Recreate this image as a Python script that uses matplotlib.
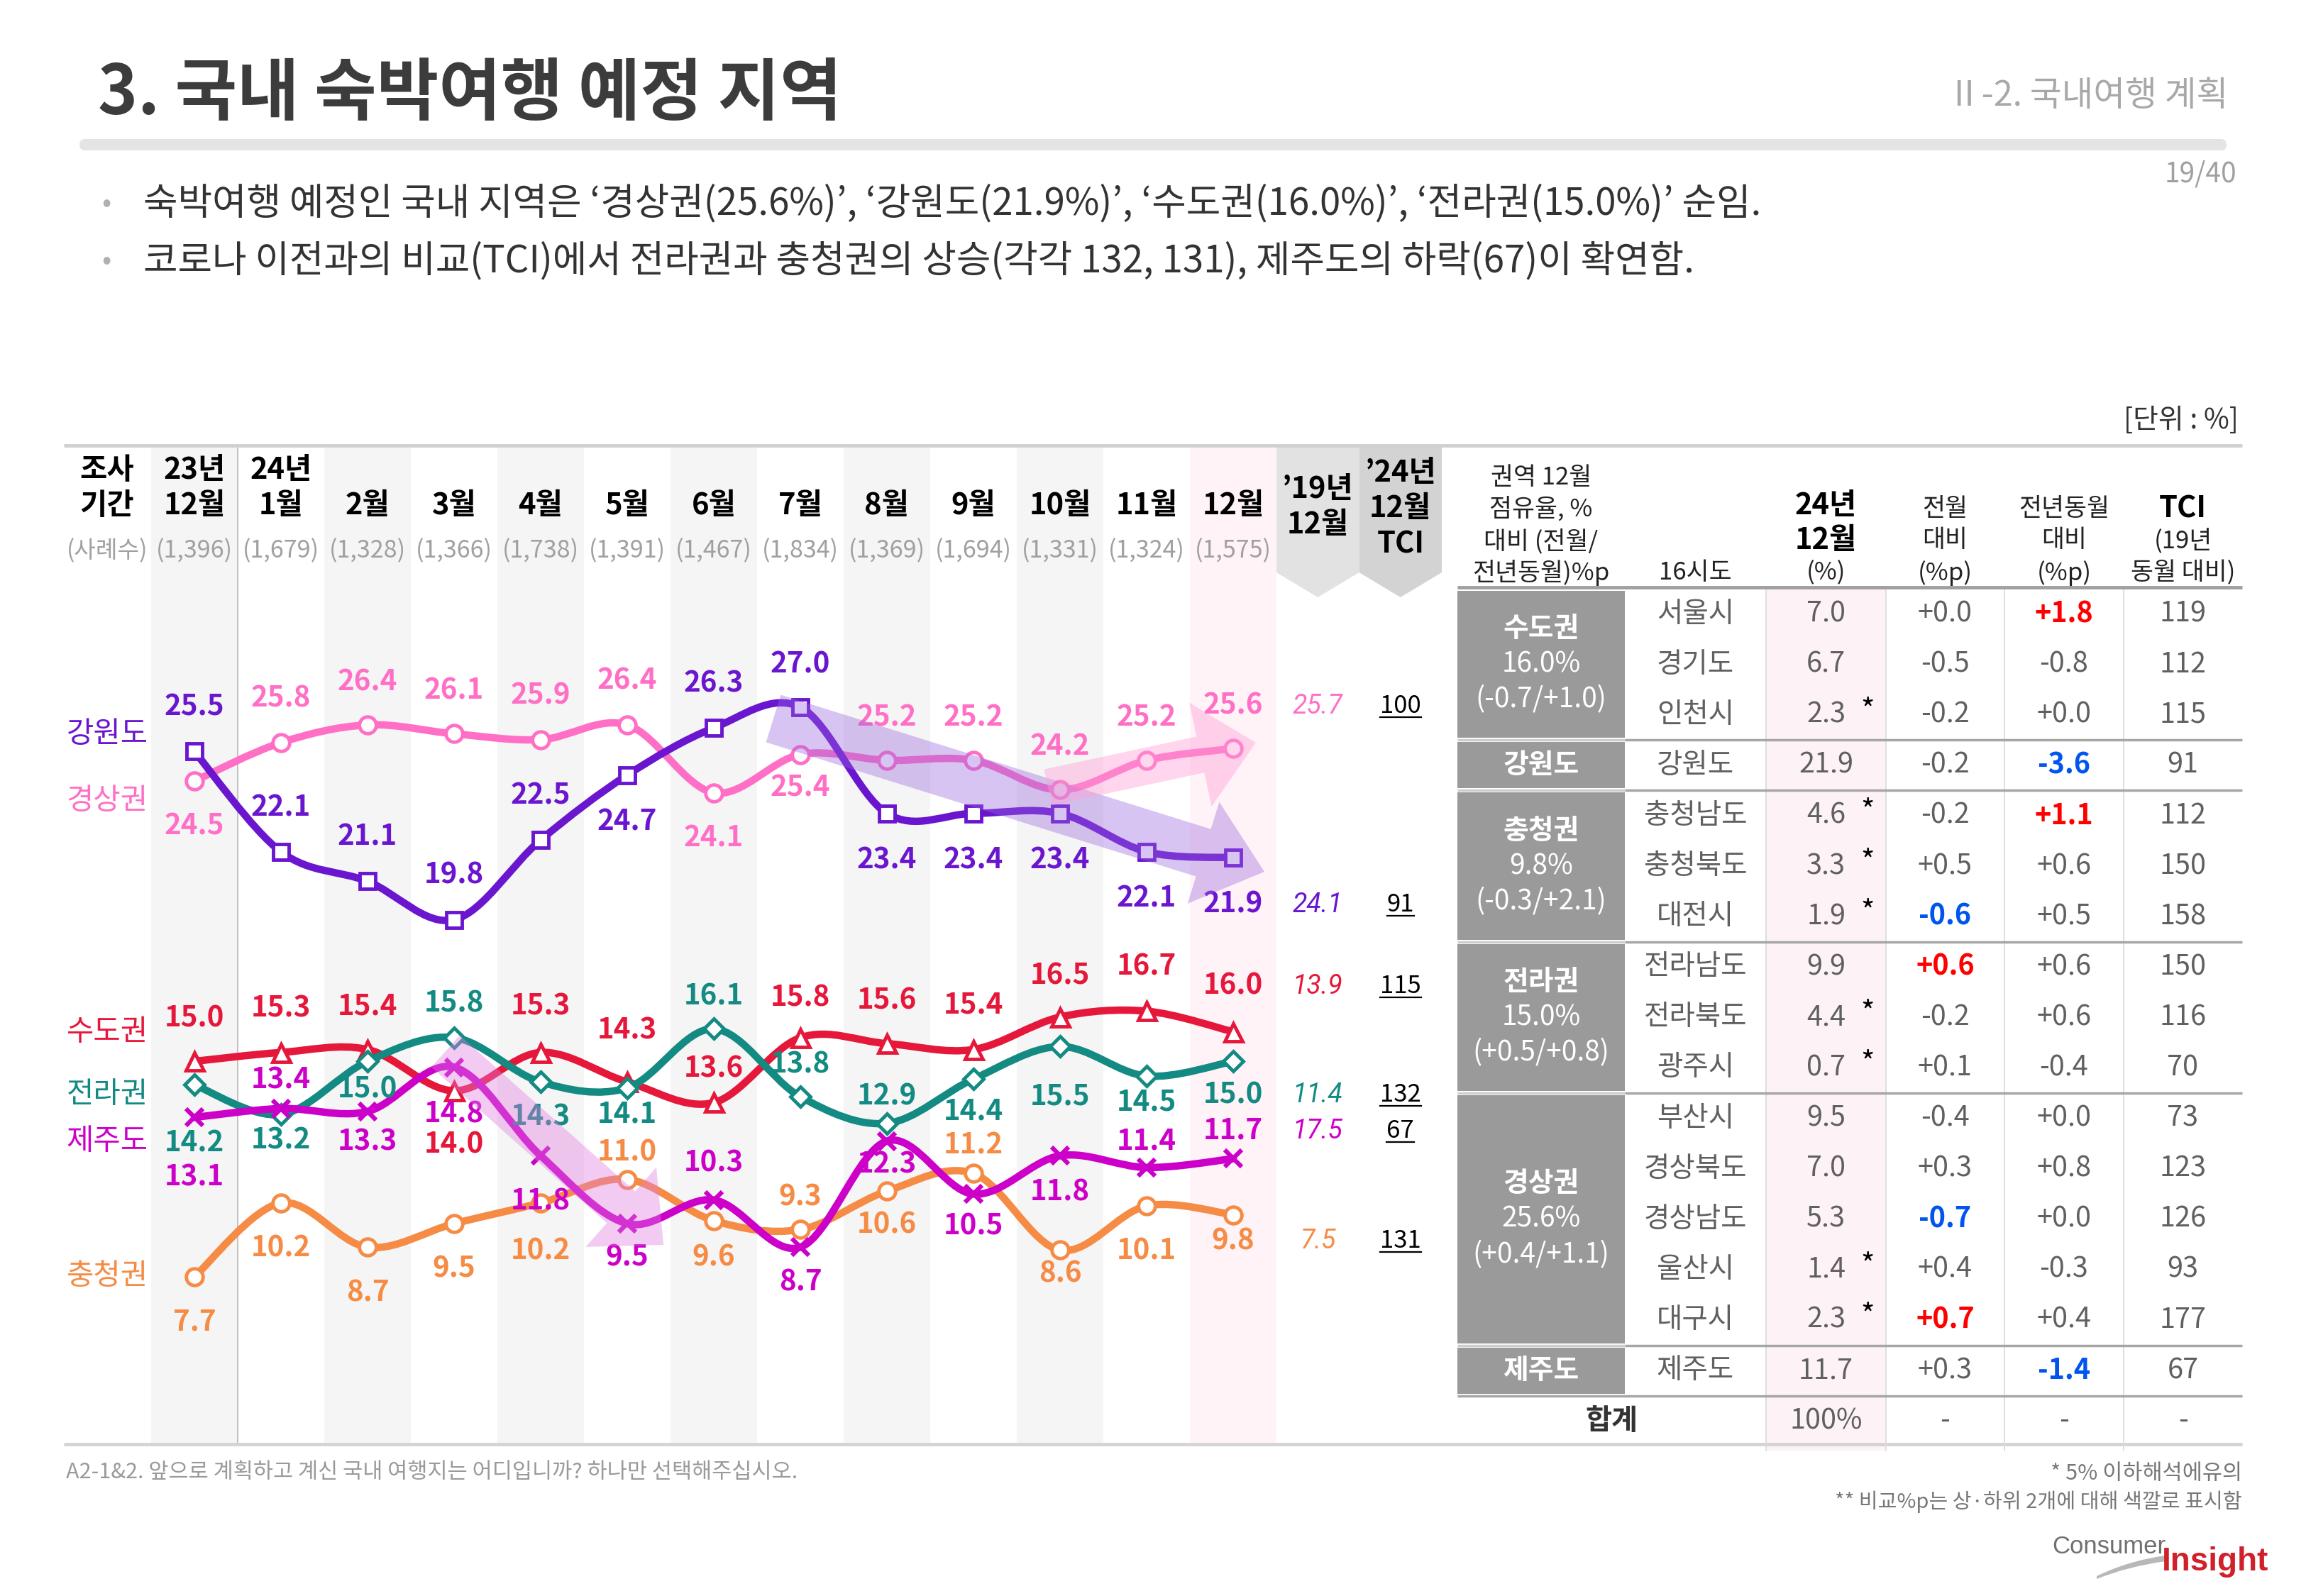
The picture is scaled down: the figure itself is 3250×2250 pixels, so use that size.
import matplotlib
matplotlib.use("Agg")
import matplotlib.pyplot as plt
import numpy as np
from matplotlib.path import Path
from matplotlib.patches import PathPatch, Rectangle, Polygon, FancyArrow, FancyBboxPatch
from matplotlib.lines import Line2D

plt.rcParams["font.family"] = ["Noto Sans CJK KR", "DejaVu Sans"]
plt.rcParams["axes.unicode_minus"] = False

# ── 데이터 ──────────────────────────────────────────────
MONTH_YEAR = ["23년", "24년", "", "", "", "", "", "", "", "", "", "", ""]
MONTH_LABEL = ["12월", "1월", "2월", "3월", "4월", "5월", "6월",
               "7월", "8월", "9월", "10월", "11월", "12월"]
SAMPLE_N = [1396, 1679, 1328, 1366, 1738, 1391, 1467, 1834, 1369, 1694, 1331, 1324, 1575]

SERIES = ["강원도", "경상권", "수도권", "전라권", "제주도", "충청권"]
GANGWON = [25.5, 22.1, 21.1, 19.8, 22.5, 24.7, 26.3, 27.0, 23.4, 23.4, 23.4, 22.1, 21.9]
GYEONGSANG = [24.5, 25.8, 26.4, 26.1, 25.9, 26.4, 24.1, 25.4, 25.2, 25.2, 24.2, 25.2, 25.6]
SUDO = [15.0, 15.3, 15.4, 14.0, 15.3, 14.3, 13.6, 15.8, 15.6, 15.4, 16.5, 16.7, 16.0]
JEOLLA = [14.2, 13.2, 15.0, 15.8, 14.3, 14.1, 16.1, 13.8, 12.9, 14.4, 15.5, 14.5, 15.0]
JEJU = [13.1, 13.4, 13.3, 14.8, 11.8, 9.5, 10.3, 8.7, 12.3, 10.5, 11.8, 11.4, 11.7]
CHUNGCHEONG = [7.7, 10.2, 8.7, 9.5, 10.2, 11.0, 9.6, 9.3, 10.6, 11.2, 8.6, 10.1, 9.8]
DEC19 = [24.1, 25.7, 13.9, 11.4, 17.5, 7.5]   # '19년 12월 (SERIES 순서)

SIDO = ["서울시", "경기도", "인천시", "강원도", "충청남도", "충청북도", "대전시",
        "전라남도", "전라북도", "광주시", "부산시", "경상북도", "경상남도", "울산시",
        "대구시", "제주도"]
SIDO_SHARE = [7.0, 6.7, 2.3, 21.9, 4.6, 3.3, 1.9, 9.9, 4.4, 0.7, 9.5, 7.0, 5.3, 1.4, 2.3, 11.7]
SIDO_LOWN = [False, False, True, False, True, True, True, False, True, True,
             False, False, False, True, True, False]
SIDO_MOM = [0.0, -0.5, -0.2, -0.2, -0.2, 0.5, -0.6, 0.6, -0.2, 0.1, -0.4, 0.3, -0.7, 0.4, 0.7, 0.3]
SIDO_YOY = [1.8, -0.8, 0.0, -3.6, 1.1, 0.6, 0.5, 0.6, 0.6, -0.4, 0.0, 0.8, 0.0, -0.3, 0.4, -1.4]
SIDO_TCI = [119, 112, 115, 91, 112, 150, 158, 150, 116, 70, 73, 123, 126, 93, 177, 67]

GROUPS = ["수도권", "강원도", "충청권", "전라권", "경상권", "제주도"]
GROUP_SIZE = [3, 1, 3, 3, 5, 1]

VALUES = dict(zip(SERIES, [GANGWON, GYEONGSANG, SUDO, JEOLLA, JEJU, CHUNGCHEONG]))
PRE19 = dict(zip(SERIES, DEC19))

# ── 스타일 ──────────────────────────────────────────────
COLORS = {"강원도": "#6a16cf", "경상권": "#ff6fc6", "수도권": "#e5173a",
          "전라권": "#138a82", "제주도": "#cc00c8", "충청권": "#f68b45"}
MARKERS = {"강원도": "s", "경상권": "o", "수도권": "^",
           "전라권": "D", "제주도": "x", "충청권": "o"}
ZORD = {"강원도": 4, "경상권": 3, "수도권": 2, "전라권": 3, "제주도": 4, "충청권": 2}
# 데이터 레이블 세로 오프셋(+ 위, - 아래), 원본 축소화면 px 기준
LABEL_OFF = {
    "강원도": [30, 30, 30, 30, 30, -32, 30, 29, -32, -32, -32, -32, -32],
    "경상권": [-31, 30, 29, 29, 30, 30, -31, -23, 29, 29, 29, 29, 29],
    "수도권": [29, 30, 29, -37, 31, 35, 23, 27, 29, 30, 28, 30, 31],
    "전라권": [-40, -18, -19, 23, -24, -18, 22, 22, 18, -22, -34, -18, -23],
    "제주도": [-41, 19, -21, -32, -31, -23, 25, -24, -16, -22, -25, 18, 19],
    "충청권": [-31, -31, -31, -31, -33, 18, -25, 22, -23, 19, -16, -31, -18],
}
NAME_Y = {"강원도": 1036, "경상권": 1130, "수도권": 1455,
          "전라권": 1544, "제주도": 1610, "충청권": 1799}

W, H = 3250, 2250
COL0, COLW = 274, 122          # 23년 12월 열 중심(px), 열 폭
V0, VY0, VS = 27.0, 997, 41.6  # 27.0 -> y=997px, 1%p = 41.6px
CH_L, CH_R, CH_T, CH_B = 90, 2032, 630, 2035
T_X = [2054, 2290, 2489, 2658, 2825, 2993, 3160]
T_TOP, T_ROW = 830, 71.1

GRAY_TXT = "#606060"
RED_HI = "#ff0000"
BLUE_HI = "#0055ee"
HDR_FS = 30
TB_FS = 28.5


def px(i):
    return COL0 + COLW * i


def smooth_path(xs, ys, k=1 / 6):
    pts = np.column_stack([xs, ys]).astype(float)
    n = len(pts)
    verts, codes = [pts[0]], [Path.MOVETO]
    for i in range(n - 1):
        p0, p1, p2 = pts[max(i - 1, 0)], pts[i], pts[i + 1]
        p3 = pts[min(i + 2, n - 1)]
        verts += [p1 + (p2 - p0) * k, p2 - (p3 - p1) * k, p2]
        codes += [Path.CURVE4] * 3
    return Path(verts, codes)


fig = plt.figure(figsize=(W / 100, H / 100), dpi=100)
fig.patch.set_facecolor("white")

bg = fig.add_axes([0, 0, 1, 1], zorder=0)
bg.set_xlim(0, W)
bg.set_ylim(H, 0)
bg.axis("off")

# ── 제목 영역 ──
bg.text(138, 133, "3. 국내 숙박여행 예정 지역", fontsize=68.5, fontweight="bold",
        color="#3c3c3c", ha="left", va="center")
bg.text(3140, 135, "Ⅱ-2. 국내여행 계획", fontsize=35, color="#a8a8a8",
        ha="right", va="center")
bg.add_patch(FancyBboxPatch((112, 196), 3026, 16, boxstyle="round,pad=0,rounding_size=8",
                            facecolor="#e4e4e4", edgecolor="none"))
bg.text(3152, 246, "19/40", fontsize=28, color="#a0a0a0", ha="right", va="center")
bullets = ["숙박여행 예정인 국내 지역은 ‘경상권(25.6%)’, ‘강원도(21.9%)’, ‘수도권(16.0%)’, ‘전라권(15.0%)’ 순임.",
           "코로나 이전과의 비교(TCI)에서 전라권과 충청권의 상승(각각 132, 131), 제주도의 하락(67)이 확연함."]
for k, b in enumerate(bullets):
    yy = 287 + 81 * k
    bg.text(150, yy, "•", fontsize=28, color="#b0b0b0", ha="center", va="center")
    bg.text(202, yy, b, fontsize=38, color="#333333", ha="left", va="center")
bg.text(3155, 593, "[단위 : %]", fontsize=28, color="#333333", ha="right", va="center")

# ── 차트 배경 ──
for i in range(len(MONTH_LABEL)):
    left = px(i) - COLW / 2
    if i == len(MONTH_LABEL) - 1:
        bg.add_patch(Rectangle((left, CH_T), COLW, CH_B - CH_T, facecolor="#fff3f8", edgecolor="none"))
    elif i % 2 == 0:
        bg.add_patch(Rectangle((left, CH_T), COLW, CH_B - CH_T, facecolor="#f5f5f5", edgecolor="none"))
ext_l = px(len(MONTH_LABEL) - 1) + COLW / 2
ext_w = (CH_R - ext_l) / 2
ext_centers = []
for j, col in enumerate(["#e2e2e2", "#d3d3d3"]):
    l = ext_l + j * ext_w
    r = l + ext_w
    m = (l + r) / 2
    ext_centers.append(m)
    bg.add_patch(Polygon([(l, CH_T), (r, CH_T), (r, 807), (m, 842), (l, 807)],
                         closed=True, facecolor=col, edgecolor="none"))
bg.plot([px(0) + COLW / 2] * 2, [CH_T, CH_B], color="#c4c4c4", lw=1.5)
bg.plot([CH_L, T_X[-1]], [628, 628], color="#d0d0d0", lw=3.5, solid_capstyle="butt")
bg.plot([CH_L, T_X[-1]], [2036, 2036], color="#d4d4d4", lw=3.5, solid_capstyle="butt")

# 헤더
bg.text(151, 663, "조사", fontsize=HDR_FS, fontweight="bold", ha="center", va="center")
bg.text(151, 713, "기간", fontsize=HDR_FS, fontweight="bold", ha="center", va="center")
bg.text(151, 777, "(사례수)", fontsize=24, color="#a0a0a0", ha="center", va="center")
for i, (yr, mo, n) in enumerate(zip(MONTH_YEAR, MONTH_LABEL, SAMPLE_N)):
    if yr:
        bg.text(px(i), 663, yr, fontsize=HDR_FS, fontweight="bold", ha="center", va="center")
    bg.text(px(i), 713, mo, fontsize=HDR_FS, fontweight="bold", ha="center", va="center")
    bg.text(px(i), 777, f"({n:,})", fontsize=24.5, color="#a0a0a0", ha="center", va="center")
bg.text(ext_centers[0], 690, "’19년", fontsize=HDR_FS, fontweight="bold", ha="center", va="center")
bg.text(ext_centers[0], 740, "12월", fontsize=HDR_FS, fontweight="bold", ha="center", va="center")
bg.text(ext_centers[1], 667, "’24년", fontsize=HDR_FS, fontweight="bold", ha="center", va="center")
bg.text(ext_centers[1], 717, "12월", fontsize=HDR_FS, fontweight="bold", ha="center", va="center")
bg.text(ext_centers[1], 767, "TCI", fontsize=HDR_FS, fontweight="bold", ha="center", va="center")

for name in SERIES:
    bg.text(151, NAME_Y[name], name, fontsize=30, color=COLORS[name], ha="center", va="center")

# ── 꺾은선 ──
ax = fig.add_axes([CH_L / W, 1 - CH_B / H, (CH_R - CH_L) / W, (CH_B - CH_T) / H], zorder=1)
ax.set_xlim((CH_L - COL0) / COLW, (CH_R - COL0) / COLW)
ax.set_ylim(V0 - (CH_B - VY0) / VS, V0 + (VY0 - CH_T) / VS)
ax.patch.set_visible(False)
ax.axis("off")

xs = np.arange(len(MONTH_LABEL))
x19 = (ext_centers[0] - COL0) / COLW
xtci = (ext_centers[1] - COL0) / COLW
PT = 2.0727 * 0.72
tci_texts = []
for name in SERIES:
    vals = VALUES[name]
    c = COLORS[name]
    z = ZORD[name]
    ax.add_patch(PathPatch(smooth_path(xs, vals), fill=False, edgecolor=c, lw=7.5,
                           capstyle="round", joinstyle="round", zorder=z))
    if MARKERS[name] == "x":
        ax.plot(xs, vals, ls="none", marker="x", ms=17, mec=c, mew=4.5, zorder=z + 0.5)
    else:
        ms = {"s": 16, "o": 17, "^": 18, "D": 14}[MARKERS[name]]
        ax.plot(xs, vals, ls="none", marker=MARKERS[name], ms=ms, mfc="white",
                mec=c, mew=3.5, zorder=z + 0.5)
    for i, v in enumerate(vals):
        ax.annotate(f"{v:.1f}", (i, v), xytext=(0, LABEL_OFF[name][i] * PT),
                    textcoords="offset points", ha="center", va="center",
                    fontsize=29, fontweight="bold", color=c, zorder=10)
    off = LABEL_OFF[name][-1] * PT
    ax.annotate(f"{PRE19[name]:.1f}", (x19, vals[-1]), xytext=(0, off),
                textcoords="offset points", ha="center", va="center", fontsize=27,
                color=c, family=["Roboto", "DejaVu Sans"], fontstyle="italic",
                fontweight="normal", zorder=10)
    tci = round(vals[-1] / PRE19[name] * 100)
    t = ax.annotate(f"{tci}", (xtci, vals[-1]), xytext=(0, off),
                    textcoords="offset points", ha="center", va="center",
                    fontsize=25, color="black", zorder=10)
    tci_texts.append(t)

# ── 반투명 화살표 ──
ov = fig.add_axes([0, 0, 1, 1], zorder=2)
ov.set_xlim(0, W)
ov.set_ylim(H, 0)
ov.patch.set_visible(False)
ov.axis("off")
ov.add_patch(FancyArrow(1090, 1013, 692, 216, width=70, head_width=150, head_length=90,
                        length_includes_head=True, facecolor="#9966dd", edgecolor="none", alpha=0.38))
ov.add_patch(FancyArrow(1477, 1110, 293, -63, width=52, head_width=150, head_length=80,
                        length_includes_head=True, facecolor="#ff9fd6", edgecolor="none", alpha=0.42))
ov.add_patch(FancyArrow(628, 1482, 307, 273, width=60, head_width=150, head_length=80,
                        length_includes_head=True, facecolor="#e07ce0", edgecolor="none", alpha=0.4))

# ── 표 ──
n_rows = len(SIDO)
row_y = [T_TOP + (r + 0.5) * T_ROW for r in range(n_rows + 1)]
tb_bottom = T_TOP + (n_rows + 1) * T_ROW
bg.add_patch(Rectangle((T_X[2], 828), T_X[3] - T_X[2], tb_bottom + 6 - 828,
                       facecolor="#fdf3f7", edgecolor="none"))
for xv in T_X[2:6]:
    bg.plot([xv, xv], [828, tb_bottom + 6], color="#dcdcdc", lw=1.3)
bg.plot([T_X[0], T_X[-1]], [828, 828], color="#a0a0a0", lw=3.5, solid_capstyle="butt")

hdr_c = [(T_X[0] + T_X[1]) / 2] + [(T_X[k] + T_X[k + 1]) / 2 for k in range(1, 6)]
for yy, s in zip([673, 718, 763, 808], ["권역 12월", "점유율, %", "대비 (전월/", "전년동월)%p"]):
    bg.text(hdr_c[0], yy, s, fontsize=25, ha="center", va="center", color="#222222")
bg.text(hdr_c[1], 808, "16시도", fontsize=25, ha="center", va="center", color="#222222")
bg.text(hdr_c[2], 713, "24년", fontsize=30, fontweight="bold", ha="center", va="center")
bg.text(hdr_c[2], 762, "12월", fontsize=30, fontweight="bold", ha="center", va="center")
bg.text(hdr_c[2], 808, "(%)", fontsize=25, ha="center", va="center", color="#222222")
for k, lines in zip([3, 4], [["전월", "대비", "(%p)"], ["전년동월", "대비", "(%p)"]]):
    for yy, s in zip([717, 762, 808], lines):
        bg.text(hdr_c[k], yy, s, fontsize=25, ha="center", va="center", color="#222222")
bg.text(hdr_c[5], 717, "TCI", fontsize=30, fontweight="bold", ha="center", va="center")
bg.text(hdr_c[5], 762, "(19년", fontsize=25, ha="center", va="center", color="#222222")
bg.text(hdr_c[5], 808, "동월 대비)", fontsize=25, ha="center", va="center", color="#222222")

# 지역 그룹 셀
group_series = {"수도권": SUDO, "충청권": CHUNGCHEONG, "전라권": JEOLLA, "경상권": GYEONGSANG}
r0 = 0
for g, size in zip(GROUPS, GROUP_SIZE):
    top = T_TOP + r0 * T_ROW
    bot = top + size * T_ROW
    bg.add_patch(Rectangle((T_X[0], top + 3), T_X[1] - T_X[0], size * T_ROW - 6,
                           facecolor="#9a9a9a", edgecolor="none"))
    if r0 > 0:
        bg.plot([T_X[1], T_X[-1]], [top, top], color="#a6a6a6", lw=2.5, solid_capstyle="butt")
        bg.plot([T_X[0], T_X[1]], [top, top], color="#cdcdcd", lw=2.5, solid_capstyle="butt")
    cy = (top + bot) / 2
    cx = (T_X[0] + T_X[1]) / 2
    if g in group_series:
        s = group_series[g]
        bg.text(cx, cy - 50, g, fontsize=28, fontweight="bold", color="white", ha="center", va="center")
        bg.text(cx, cy, f"{s[-1]:.1f}%", fontsize=28, color="white", ha="center", va="center")
        bg.text(cx, cy + 50, f"({s[-1] - s[-2]:+.1f}/{s[-1] - s[0]:+.1f})", fontsize=28,
                color="white", ha="center", va="center")
    else:
        bg.text(cx, cy, g, fontsize=28, fontweight="bold", color="white", ha="center", va="center")
    r0 += size
bg.plot([T_X[0], T_X[-1]], [T_TOP + n_rows * T_ROW] * 2, color="#a6a6a6", lw=2.5,
        solid_capstyle="butt")

mom_rank = np.argsort(SIDO_MOM)
yoy_rank = np.argsort(SIDO_YOY)
for r, (nm, sh, low, mo, yo, tc) in enumerate(zip(SIDO, SIDO_SHARE, SIDO_LOWN,
                                                  SIDO_MOM, SIDO_YOY, SIDO_TCI)):
    yy = row_y[r]
    bg.text(hdr_c[1], yy, nm, fontsize=TB_FS, color=GRAY_TXT, ha="center", va="center")
    bg.text(hdr_c[2], yy, f"{sh:.1f}", fontsize=TB_FS, color=GRAY_TXT, ha="center", va="center")
    if low:
        bg.text(2632, yy - 6, "*", fontsize=30, color="black", ha="center", va="center")
    for k, val, rank in [(3, mo, mom_rank), (4, yo, yoy_rank)]:
        col, wt = GRAY_TXT, "normal"
        if r in rank[-2:]:
            col, wt = RED_HI, "bold"
        elif r in rank[:2]:
            col, wt = BLUE_HI, "bold"
        bg.text(hdr_c[k], yy, f"{val:+.1f}", fontsize=TB_FS, color=col, fontweight=wt,
                ha="center", va="center")
    bg.text(hdr_c[5], yy, f"{tc}", fontsize=TB_FS, color=GRAY_TXT, ha="center", va="center")
yy = row_y[n_rows]
bg.text((T_X[0] + T_X[2]) / 2, yy, "합계", fontsize=29, fontweight="bold", color="#333333",
        ha="center", va="center")
bg.text(hdr_c[2], yy, "100%", fontsize=TB_FS, color=GRAY_TXT, ha="center", va="center")
for k in (3, 4, 5):
    bg.text(hdr_c[k], yy, "-", fontsize=TB_FS, color=GRAY_TXT, ha="center", va="center")

# ── 하단 ──
bg.text(93, 2075, "A2-1&2. 앞으로 계획하고 계신 국내 여행지는 어디입니까? 하나만 선택해주십시오.",
        fontsize=22, color="#9a9a9a", ha="left", va="center")
bg.text(3160, 2078, "* 5% 이하해석에유의", fontsize=22, color="#777777", ha="right", va="center")
bg.text(3160, 2117, "** 비교%p는 상·하위 2개에 대해 색깔로 표시함", fontsize=21, color="#777777",
        ha="right", va="center")
bg.text(2972, 2180, "Consumer", fontsize=25, color="#707070", ha="center", va="center",
        family=["Liberation Sans", "DejaVu Sans"])
bg.text(3122, 2202, "Insight", fontsize=33, fontweight="bold", color="#d0202a", ha="center",
        va="center", family=["Liberation Sans", "DejaVu Sans"])
swoosh = Path([(2955, 2222), (3000, 2200), (3052, 2193), (3052, 2201), (3000, 2208), (2955, 2226), (2955, 2222)],
              [Path.MOVETO, Path.CURVE3, Path.CURVE3, Path.LINETO, Path.CURVE3, Path.CURVE3, Path.CLOSEPOLY])
bg.add_patch(PathPatch(swoosh, facecolor="#b8b8b8", edgecolor="none"))

# TCI 밑줄
fig.canvas.draw()
renderer = fig.canvas.get_renderer()
for t in tci_texts:
    bb = t.get_window_extent(renderer)
    fig.add_artist(Line2D([bb.x0, bb.x1], [bb.y0 + 2, bb.y0 + 2], color="black", lw=1.6,
                          transform=None))

fig.savefig("out.png", dpi=100, facecolor="white")
